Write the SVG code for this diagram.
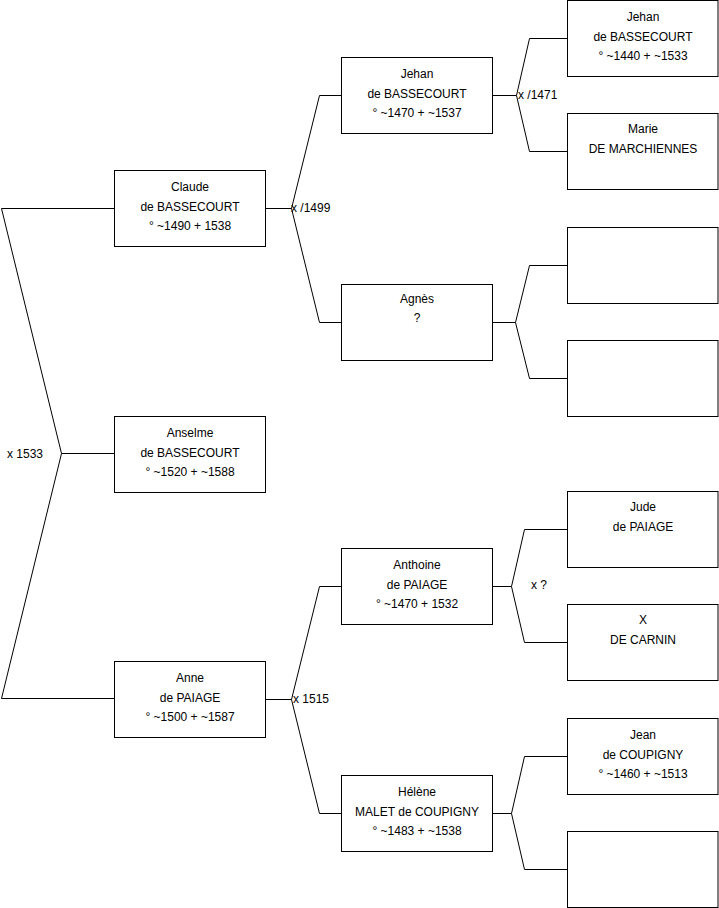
<svg xmlns="http://www.w3.org/2000/svg" width="719" height="908" viewBox="0 0 719 908">
<style>
.b{fill:#fff;stroke:#000;stroke-width:1}
.c{fill:none;stroke:#000;stroke-width:1}
text{font-family:"Liberation Sans",Arial,sans-serif;font-size:12px;fill:#000}
.t{text-anchor:middle}
</style>
<rect width="719" height="908" fill="#fff"/>
<g id="connectors">
<path class="c" d="M114.5,208.5H1.5L61.5,453.5L1.5,698.5H114.5M61.5,453.5H114.5"/>
<path class="c" d="M265.5,208.5H291.5M341.5,95.5H319.5L291.5,208.5L319.5,322.5H341.5"/>
<path class="c" d="M265.5,699.5H291.5M341.5,586.5H319.5L291.5,699.5L319.5,813.5H341.5"/>
<path class="c" d="M492.5,95.5H516.5M567.5,38.5H529.5L516.5,95.5L529.5,151.5H567.5"/>
<path class="c" d="M492.5,322.5H515.5M567.5,265.5H529.5L515.5,322.5L529.5,378.5H567.5"/>
<path class="c" d="M492.5,586.5H511.5M567.5,529.5H524.5L511.5,586.5L524.5,642.5H567.5"/>
<path class="c" d="M492.5,813.5H511.5M567.5,756.5H524.5L511.5,813.5L524.5,869.5H567.5"/>
<text x="7" y="458">x 1533</text>
<text x="291" y="212">x /1499</text>
<text x="518" y="99">x /1471</text>
<text x="531" y="589">x ?</text>
<text x="293" y="703">x 1515</text>
</g>
<g id="claude"><rect class="b" x="114.5" y="170.5" width="151" height="76"/><text class="t" x="190" y="191">Claude</text><text class="t" x="190" y="210.5">de BASSECOURT</text><text class="t" x="190" y="230">° ~1490 + 1538</text></g>
<g id="anselme"><rect class="b" x="114.5" y="416.5" width="151" height="76"/><text class="t" x="190" y="437">Anselme</text><text class="t" x="190" y="456.5">de BASSECOURT</text><text class="t" x="190" y="476">° ~1520 + ~1588</text></g>
<g id="anne"><rect class="b" x="114.5" y="661.5" width="151" height="76"/><text class="t" x="190" y="682">Anne</text><text class="t" x="190" y="701.5">de PAIAGE</text><text class="t" x="190" y="721">° ~1500 + ~1587</text></g>
<g id="jehan2"><rect class="b" x="341.5" y="57.5" width="151" height="76"/><text class="t" x="417" y="78">Jehan</text><text class="t" x="417" y="97.5">de BASSECOURT</text><text class="t" x="417" y="117">° ~1470 + ~1537</text></g>
<g id="agnes"><rect class="b" x="341.5" y="284.5" width="151" height="76"/><text class="t" x="417" y="302.5">Agnès</text><text class="t" x="417" y="321.5">?</text></g>
<g id="anthoine"><rect class="b" x="341.5" y="548.5" width="151" height="76"/><text class="t" x="417" y="569">Anthoine</text><text class="t" x="417" y="588.5">de PAIAGE</text><text class="t" x="417" y="608">° ~1470 + 1532</text></g>
<g id="helene"><rect class="b" x="341.5" y="775.5" width="151" height="76"/><text class="t" x="417" y="796">Hélène</text><text class="t" x="417" y="815.5">MALET de COUPIGNY</text><text class="t" x="417" y="835">° ~1483 + ~1538</text></g>
<g id="jehan3"><rect class="b" x="567.5" y="0.5" width="150.5" height="76"/><text class="t" x="643" y="21">Jehan</text><text class="t" x="643" y="40.5">de BASSECOURT</text><text class="t" x="643" y="60">° ~1440 + ~1533</text></g>
<g id="marie"><rect class="b" x="567.5" y="113.5" width="150.5" height="76"/><text class="t" x="643" y="133">Marie</text><text class="t" x="643" y="152.5">DE MARCHIENNES</text></g>
<g id="unknown1"><rect class="b" x="567.5" y="227.5" width="150.5" height="76"/></g>
<g id="unknown2"><rect class="b" x="567.5" y="340.5" width="150.5" height="76"/></g>
<g id="jude"><rect class="b" x="567.5" y="491.5" width="150.5" height="76"/><text class="t" x="643" y="511">Jude</text><text class="t" x="643" y="531">de PAIAGE</text></g>
<g id="x-carnin"><rect class="b" x="567.5" y="604.5" width="150.5" height="76"/><text class="t" x="643" y="624">X</text><text class="t" x="643" y="644">DE CARNIN</text></g>
<g id="jean"><rect class="b" x="567.5" y="718.5" width="150.5" height="76"/><text class="t" x="643" y="739">Jean</text><text class="t" x="643" y="758.5">de COUPIGNY</text><text class="t" x="643" y="778">° ~1460 + ~1513</text></g>
<g id="unknown3"><rect class="b" x="567.5" y="831.5" width="150.5" height="76"/></g>
</svg>
